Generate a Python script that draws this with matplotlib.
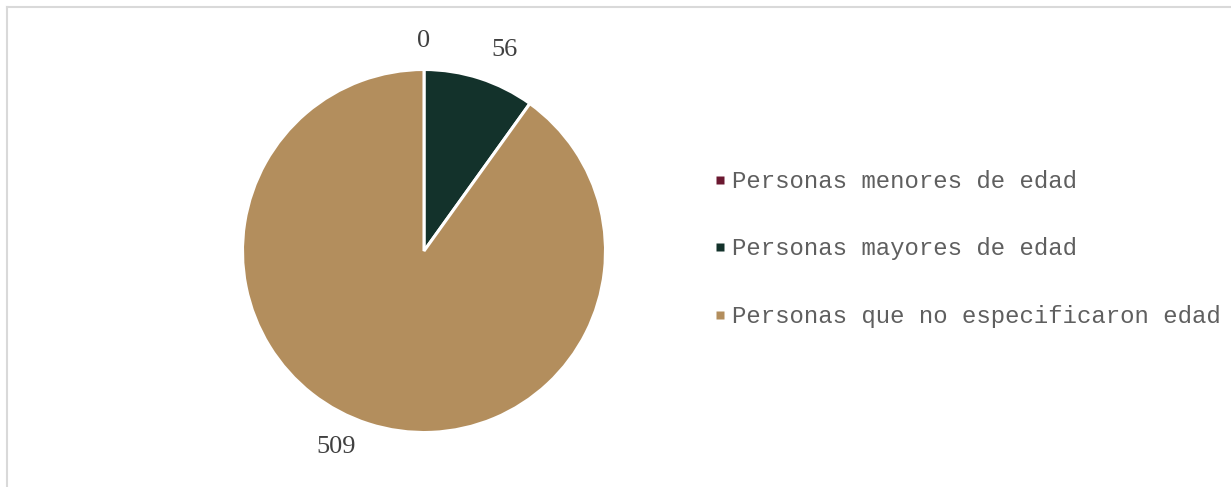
import matplotlib.pyplot as plt
from matplotlib.lines import Line2D

categories = ['Personas menores de edad', 'Personas mayores de edad',
              'Personas que no especificaron edad']
values = [0, 56, 509]
colors = ['#6B1830', '#13322B', '#B38E5D']
# label positions (in pie radius units), as placed in the original
label_pos = [(0.0, 1.157), (0.446, 1.107), (-0.485, -1.08)]

fig = plt.figure(figsize=(12.31, 4.87), dpi=100)

# --- pie --- #
W, H = 1231, 487
cx, cy, r = 424, 251, 181.5
ax = fig.add_axes([(cx - r) / W, (H - cy - r) / H, 2 * r / W, 2 * r / H])
wedges, texts = ax.pie(values, colors=colors, startangle=90, counterclock=False,
                       labels=[str(v) for v in values],
                       wedgeprops=dict(edgecolor='white', linewidth=2.2),
                       textprops=dict(family='Liberation Serif', fontsize=19, color='#404040'))
for t, pos in zip(texts, label_pos):
    t.set_position(pos)
    t.set_ha('center')
    t.set_va('center')
ax.set_xlim(-1, 1)
ax.set_ylim(-1, 1)
ax.set_aspect('equal')
ax.axis('off')

# --- legend --- #
handles = [Line2D([], [], marker='s', linestyle='none', markersize=6,
                  markerfacecolor=c, markeredgecolor='none') for c in colors]
leg = fig.legend(handles, categories, loc='center left',
                 bbox_to_anchor=(714 / W, 1 - 249 / H), frameon=False,
                 prop=dict(family='Liberation Mono', size=17.3),
                 handlelength=0.5, handletextpad=0.25,
                 labelspacing=1.85, borderpad=0, borderaxespad=0)
for t in leg.get_texts():
    t.set_color('#5f5f5f')

# --- chart border (top and left visible) --- #
fig.add_artist(Line2D([6.5 / W, 1], [1 - 7 / H, 1 - 7 / H], color='#d9d9d9', lw=1.5,
                      transform=fig.transFigure))
fig.add_artist(Line2D([6.5 / W, 6.5 / W], [0, 1 - 7 / H], color='#d9d9d9', lw=1.5,
                      transform=fig.transFigure))

fig.savefig('out.png', dpi=100)
